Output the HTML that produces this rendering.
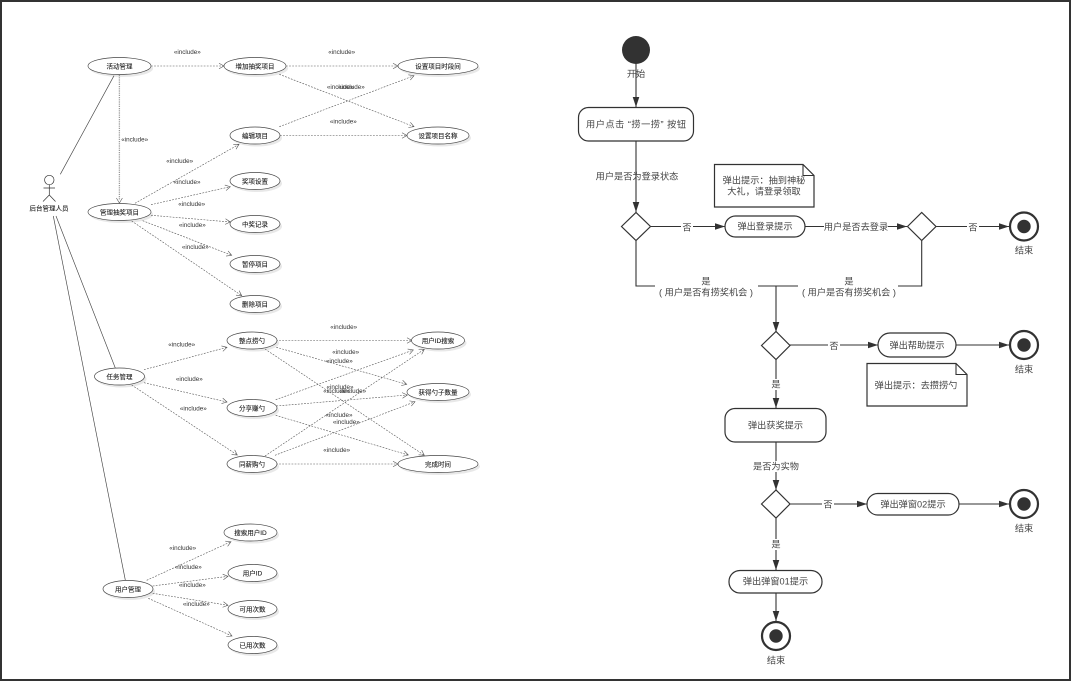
<!DOCTYPE html>
<html><head><meta charset="utf-8"><style>
html,body{margin:0;padding:0;background:#fff}
svg{display:block}
text{text-anchor:middle;font-family:"Liberation Sans","Noto Sans CJK SC",sans-serif}
.n{font-size:6.5px;fill:#222;stroke:#222;stroke-width:.12}
.i{font-size:6.3px;fill:#333}
.t{font-size:9.2px;fill:#444}
.u{fill:none;stroke:#444;stroke-width:.65}
.d{fill:none;stroke:#555;stroke-width:.6;stroke-dasharray:1.8 1.3}
.g{fill:none;stroke:#999;stroke-width:1.3;stroke-dasharray:1.2 1}
.e{fill:#fff;stroke:#444;stroke-width:.65}
.s{fill:#e8e8e8}
.l{fill:none;stroke:#333;stroke-width:1.1}
.b{fill:#fff;stroke:#333;stroke-width:1.2}
</style></head><body>
<svg width="1071" height="681" viewBox="0 0 1071 681" xmlns="http://www.w3.org/2000/svg">
<defs>
<marker id="o" markerUnits="userSpaceOnUse" markerWidth="8" markerHeight="8" refX="6" refY="4" orient="auto"><path d="M1 1.2L6 4L1 6.8" fill="none" stroke="#555" stroke-width=".6" stroke-dasharray="none"/></marker>
<marker id="f" markerUnits="userSpaceOnUse" markerWidth="12" markerHeight="10" refX="10" refY="5" orient="auto"><path d="M0 1.7L10 5L0 8.3Z" fill="#333"/></marker>
<filter id="bl" x="-5%" y="-5%" width="110%" height="110%"><feGaussianBlur stdDeviation="0.25"/></filter>
</defs>
<rect width="1071" height="681" fill="#fff"/>
<g filter="url(#bl)">
<g class="s">
<ellipse cx="121.5" cy="68.5" rx="31.5" ry="8.5"/><ellipse cx="257" cy="68.5" rx="31" ry="8.5"/><ellipse cx="440" cy="68.5" rx="40" ry="8.5"/>
<ellipse cx="257" cy="138" rx="25" ry="8.5"/><ellipse cx="440" cy="138" rx="31" ry="8.5"/><ellipse cx="257" cy="183.5" rx="25" ry="8.5"/>
<ellipse cx="257" cy="226.5" rx="25" ry="8.5"/><ellipse cx="257" cy="266.5" rx="25" ry="8.5"/><ellipse cx="257" cy="306.5" rx="25" ry="8.5"/>
<ellipse cx="121.5" cy="214.5" rx="31.5" ry="8.5"/><ellipse cx="254" cy="343" rx="25" ry="8.5"/><ellipse cx="440" cy="343" rx="26.5" ry="8.5"/>
<ellipse cx="121.5" cy="379" rx="25" ry="8.5"/><ellipse cx="254" cy="410.5" rx="25" ry="8.5"/><ellipse cx="440" cy="394.5" rx="31" ry="8.5"/>
<ellipse cx="254" cy="466.5" rx="25" ry="8.5"/><ellipse cx="440" cy="466.5" rx="40" ry="8.5"/><ellipse cx="252.5" cy="535" rx="26.5" ry="8.5"/>
<ellipse cx="254.5" cy="575.5" rx="24.5" ry="8.5"/><ellipse cx="254.5" cy="611.5" rx="24.5" ry="8.5"/><ellipse cx="254.5" cy="647.5" rx="24.5" ry="8.5"/>
<ellipse cx="130" cy="591.5" rx="25" ry="8.5"/>
</g>
<path class="u" d="M114 75.7L60.3 174.3M56 216L115.3 368M53.3 216L125.3 580"/>
<path class="g" d="M119.4 75V200"/>
<path d="M116.4 198L119.4 203L122.4 198" fill="none" stroke="#555" stroke-width=".6"/>
<g class="d">
<path marker-end="url(#o)" d="M151 66H224"/><path marker-end="url(#o)" d="M286 66H398"/>
<path marker-end="url(#o)" d="M279.3 74.3L414 126.7"/><path marker-end="url(#o)" d="M279.3 126.7L414 75.7"/>
<path marker-end="url(#o)" d="M280 135.5H407"/>
<path marker-end="url(#o)" d="M135 203.3L239 144.3"/><path marker-end="url(#o)" d="M151 204.7L230.3 186.7"/>
<path marker-end="url(#o)" d="M151 215.3L230.3 222"/><path marker-end="url(#o)" d="M142.7 220.7L231.7 255.3"/>
<path marker-end="url(#o)" d="M131.7 221L241.7 295.7"/>
<path marker-end="url(#o)" d="M144 369.7L227 347.3"/><path marker-end="url(#o)" d="M144 382.7L227 402"/>
<path marker-end="url(#o)" d="M131.7 385L237.3 455"/><path marker-end="url(#o)" d="M276 340.5H412"/>
<path marker-end="url(#o)" d="M276.3 347.3L406.7 384.3"/><path marker-end="url(#o)" d="M265 349L424.3 455.3"/>
<path marker-end="url(#o)" d="M275.7 399.7L413.3 350"/><path marker-end="url(#o)" d="M276.3 406L407.3 395"/>
<path marker-end="url(#o)" d="M275.7 415.3L408.3 455"/><path marker-end="url(#o)" d="M265 456L424.3 349.3"/>
<path marker-end="url(#o)" d="M275 455.3L415 401.7"/><path marker-end="url(#o)" d="M276 464H398"/>
<path marker-end="url(#o)" d="M146.7 580.3L231 541.7"/><path marker-end="url(#o)" d="M152.7 586L228 576.3"/>
<path marker-end="url(#o)" d="M152.7 593.3L228 605.3"/><path marker-end="url(#o)" d="M148.3 598.3L232 636"/>
</g>
<g class="e">
<ellipse cx="119.5" cy="66" rx="31.5" ry="8.5"/><ellipse cx="255" cy="66" rx="31" ry="8.5"/><ellipse cx="438" cy="66" rx="40" ry="8.5"/>
<ellipse cx="255" cy="135.5" rx="25" ry="8.5"/><ellipse cx="438" cy="135.5" rx="31" ry="8.5"/><ellipse cx="255" cy="181" rx="25" ry="8.5"/>
<ellipse cx="255" cy="224" rx="25" ry="8.5"/><ellipse cx="255" cy="264" rx="25" ry="8.5"/><ellipse cx="255" cy="304" rx="25" ry="8.5"/>
<ellipse cx="119.5" cy="212" rx="31.5" ry="8.5"/><ellipse cx="252" cy="340.5" rx="25" ry="8.5"/><ellipse cx="438" cy="340.5" rx="26.5" ry="8.5"/>
<ellipse cx="119.5" cy="376.5" rx="25" ry="8.5"/><ellipse cx="252" cy="408" rx="25" ry="8.5"/><ellipse cx="438" cy="392" rx="31" ry="8.5"/>
<ellipse cx="252" cy="464" rx="25" ry="8.5"/><ellipse cx="438" cy="464" rx="40" ry="8.5"/><ellipse cx="250.5" cy="532.5" rx="26.5" ry="8.5"/>
<ellipse cx="252.5" cy="573" rx="24.5" ry="8.5"/><ellipse cx="252.5" cy="609" rx="24.5" ry="8.5"/><ellipse cx="252.5" cy="645" rx="24.5" ry="8.5"/>
<ellipse cx="128" cy="589" rx="25" ry="8.5"/>
</g>
<g fill="none" stroke="#333" stroke-width=".7"><circle cx="49.3" cy="180" r="4.7"/><path d="M49.3 184.7V195M43.5 188H55M49.3 195L43 201.5M49.3 195L55.5 201.5"/></g>
<g class="n">
<text x="49" y="210.5">后台管理人员</text>
<text x="119.5" y="68.5">活动管理</text><text x="255" y="68.5">增加抽奖项目</text><text x="438" y="68.5">设置项目时段间</text>
<text x="255" y="138">编辑项目</text><text x="438" y="138">设置项目名称</text><text x="255" y="183.5">奖项设置</text>
<text x="255" y="226.5">中奖记录</text><text x="255" y="266.5">暂停项目</text><text x="255" y="306.5">删除项目</text>
<text x="119.5" y="214.5">管理抽奖项目</text><text x="252" y="343">整点捞勺</text><text x="438" y="343">用户ID搜索</text>
<text x="119.5" y="379">任务管理</text><text x="252" y="410.5">分享赚勺</text><text x="438" y="394.5">获得勺子数量</text>
<text x="252" y="466.5">同薪购勺</text><text x="438" y="466.5">完成时间</text><text x="250.5" y="535">搜索用户ID</text>
<text x="252.5" y="575.5">用户ID</text><text x="252.5" y="611.5">可用次数</text><text x="252.5" y="647.5">已用次数</text>
<text x="128" y="591.5">用户管理</text>
</g>
<g class="i">
<text x="187.3" y="54">«include»</text><text x="341.7" y="54">«include»</text><text x="134.7" y="141.5">«include»</text>
<text x="340.3" y="89">«include»</text><text x="351.3" y="89">«include»</text><text x="343.3" y="123.5">«include»</text>
<text x="179.7" y="163">«include»</text><text x="187" y="184">«include»</text><text x="191.7" y="206">«include»</text>
<text x="192.3" y="227">«include»</text><text x="195.3" y="249">«include»</text><text x="343.7" y="329">«include»</text>
<text x="181.7" y="346.5">«include»</text><text x="345.7" y="354">«include»</text><text x="339.3" y="363">«include»</text>
<text x="189.3" y="381">«include»</text><text x="340" y="389">«include»</text><text x="336.7" y="393">«include»</text>
<text x="352.7" y="393">«include»</text><text x="193.3" y="410.5">«include»</text><text x="339" y="417">«include»</text>
<text x="346.3" y="424">«include»</text><text x="336.7" y="452">«include»</text><text x="182.7" y="550">«include»</text>
<text x="188.3" y="569">«include»</text><text x="192.3" y="587">«include»</text><text x="196.3" y="606">«include»</text>
</g>
</g>
<g filter="url(#bl)">
<path class="l" d="M636 64V107" marker-end="url(#f)"/>
<path class="l" d="M636 141V212" marker-end="url(#f)"/>
<path class="l" d="M651 226.5H725" marker-end="url(#f)"/>
<path class="l" d="M805 226.5H907" marker-end="url(#f)"/>
<path class="l" d="M936.5 226.5H1009" marker-end="url(#f)"/>
<path class="l" d="M636 241V286H921.7V241"/>
<path class="l" d="M776 286V332" marker-end="url(#f)"/>
<path class="l" d="M790 345H878" marker-end="url(#f)"/>
<path class="l" d="M956 345H1009" marker-end="url(#f)"/>
<path class="l" d="M776 359V408" marker-end="url(#f)"/>
<path class="l" d="M776 442V490" marker-end="url(#f)"/>
<path class="l" d="M790 504H867" marker-end="url(#f)"/>
<path class="l" d="M959 504H1009" marker-end="url(#f)"/>
<path class="l" d="M776 518V570" marker-end="url(#f)"/>
<path class="l" d="M776 593V621" marker-end="url(#f)"/>
<g fill="#fff">
<rect x="655" y="280" width="103" height="17"/><rect x="798" y="280" width="100" height="17"/>
<rect x="681" y="221" width="12" height="11"/><rect x="824" y="221" width="64" height="11"/>
<rect x="967" y="221" width="12" height="11"/><rect x="828" y="340" width="12" height="11"/>
<rect x="770" y="379" width="12" height="11"/><rect x="753" y="461" width="46" height="11"/>
<rect x="822" y="499" width="12" height="11"/><rect x="770" y="539" width="12" height="11"/>
</g>
<circle cx="636" cy="50" r="14" fill="#333"/>
<rect class="b" x="578.5" y="107.5" width="115" height="33.5" rx="10"/>
<rect class="b" x="725" y="216" width="80" height="21" rx="10.5"/>
<rect class="b" x="878" y="333" width="78" height="24" rx="12"/>
<rect class="b" x="725" y="408.5" width="101" height="33.5" rx="10"/>
<rect class="b" x="867" y="493.5" width="92" height="21.5" rx="10.7"/>
<rect class="b" x="729" y="570.5" width="93" height="22.5" rx="11"/>
<path class="b" d="M621.5 226.5L636 212.5L650.5 226.5L636 240.5Z"/>
<path class="b" d="M907.5 226.5L921.7 212.5L936 226.5L921.7 240.5Z"/>
<path class="b" d="M761.5 345.5L776 331.5L790 345.5L776 359.5Z"/>
<path class="b" d="M761.5 504L776 490L790 504L776 518Z"/>
<path class="b" d="M714.5 164.5H803L814 175.5V207H714.5Z"/><path class="l" d="M803 164.5V175.5H814"/>
<path class="b" d="M867 363.5H956L967 374.5V406H867Z"/><path class="l" d="M956 363.5V374.5H967"/>
<g fill="#fff" stroke="#333" stroke-width="2.2">
<circle cx="1024" cy="226.5" r="14"/><circle cx="1024" cy="345" r="14"/><circle cx="1024" cy="504" r="14"/><circle cx="776" cy="636" r="14"/>
</g>
<g fill="#333">
<circle cx="1024" cy="226.5" r="6.7"/><circle cx="1024" cy="345" r="6.7"/><circle cx="1024" cy="504" r="6.7"/><circle cx="776" cy="636" r="6.7"/>
</g>
<g class="t">
<text x="636" y="77">开始</text>
<text x="636" y="127.5" textLength="100" lengthAdjust="spacing">用户点击 “捞一捞” 按钮</text>
<text x="637" y="179.5">用户是否为登录状态</text>
<text x="764" y="183.5">弹出提示：抽到神秘</text>
<text x="764" y="194.5">大礼，请登录领取</text>
<text x="687" y="230.5">否</text>
<text x="765" y="229.5">弹出登录提示</text>
<text x="856" y="230">用户是否去登录</text>
<text x="973" y="230.5">否</text>
<text x="1024" y="253.5">结束</text>
<text x="706" y="284.5">是</text>
<text x="706" y="295.5">( 用户是否有捞奖机会 )</text>
<text x="849" y="284.5">是</text>
<text x="849" y="295.5">( 用户是否有捞奖机会 )</text>
<text x="834" y="349">否</text>
<text x="917" y="348.5">弹出帮助提示</text>
<text x="1024" y="372.5">结束</text>
<text x="916" y="388.5">弹出提示：去攒捞勺</text>
<text x="776" y="387.5">是</text>
<text x="775.5" y="428.5">弹出获奖提示</text>
<text x="776" y="469.5">是否为实物</text>
<text x="828" y="507.5">否</text>
<text x="913" y="507.5">弹出弹窗02提示</text>
<text x="1024" y="531.5">结束</text>
<text x="776" y="547.5">是</text>
<text x="775.5" y="584.5">弹出弹窗01提示</text>
<text x="776" y="663.5">结束</text>
</g>
</g>
<rect x="1" y="1" width="1069" height="679" fill="none" stroke="#333" stroke-width="2"/>
</svg>
</body></html>
